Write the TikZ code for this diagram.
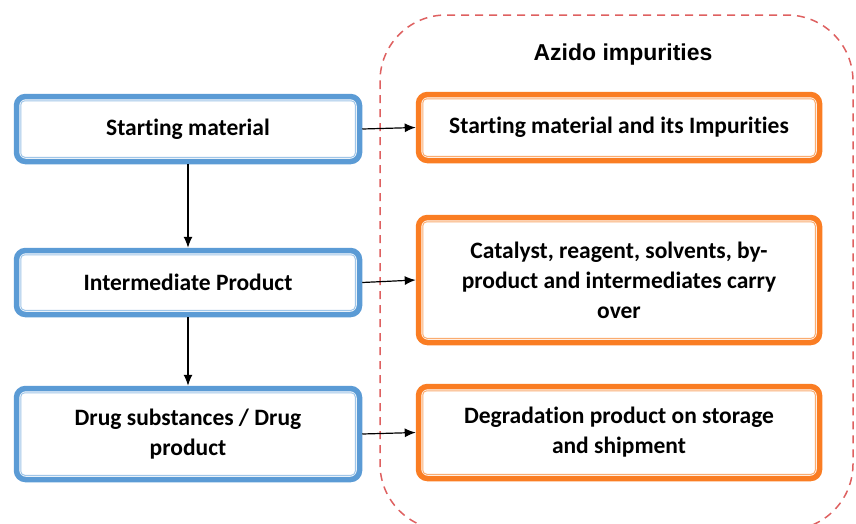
\documentclass[tikz,border=0pt]{standalone}
\usepackage{fontspec}
\setmainfont{Carlito}[Ligatures=NoCommon]
\newfontfamily\titlefont{Liberation Sans}
\usetikzlibrary{arrows.meta}
\definecolor{bluebox}{RGB}{91,155,213}
\definecolor{blueline}{RGB}{160,198,232}
\definecolor{orangebox}{RGB}{250,125,35}
\definecolor{orangeline}{RGB}{250,172,112}
\definecolor{redline}{RGB}{222,96,96}

\begin{document}
\begin{tikzpicture}[x=1pt,y=-1pt,>={Latex[length=11pt,width=9pt]},
    stepbox/.style={line width=5.5pt,rounded corners=9pt,fill=white,align=center,
      inner sep=0pt,font=\fontsize{23.5}{30}\selectfont\bfseries},
    blueframe/.style={stepbox,draw=bluebox},
    orangeframe/.style={stepbox,draw=orangebox}]
  \clip (0,0) rectangle (856,523);

  % impurity region
  \draw [redline,line width=1.5pt,dash pattern=on 8pt off 6pt,rounded corners=66pt]
    (380,15) rectangle (853,530);
  \node (title) at (623,55) {\titlefont\fontsize{23}{27}\selectfont\bfseries Azido impurities};

  \begin{scope}[every node/.style={blueframe,minimum width=343pt}]
    \node (start) [minimum height=65pt] at (188,129) {Starting material};
    \node (inter) [minimum height=64pt] at (188,282.5) {Intermediate Product};
    \node (drug) [minimum height=91pt] at (188,434) {Drug substances / Drug\\product};
  \end{scope}

  \begin{scope}[every node/.style={orangeframe,minimum width=401pt}]
    \node (smimp) [minimum height=66pt] at (619,127.5) {Starting material and its Impurities};
    \node (catal) [minimum height=125pt] at (619,280) {Catalyst, reagent, solvents, by-\\product and intermediates carry\\over};
    \node (degrad) [minimum height=92pt] at (619,432.5) {Degradation product on storage\\and shipment};
  \end{scope}

  % thin inner frames
  \foreach \n/\c in {start/blueline,inter/blueline,drug/blueline,
                     smimp/orangeline,catal/orangeline,degrad/orangeline}
    \draw [\c,line width=1pt,rounded corners=4pt]
      ([shift={(7pt,-7pt)}]\n.north west) rectangle ([shift={(-7pt,7pt)}]\n.south east);

  \path [->,line width=1.2pt] (start) edge (inter);
  \path [->,line width=1.2pt] (inter) edge (drug);
  \path [->,line width=1.2pt] (start.east) edge (smimp.west);
  \path [->,line width=1.2pt] (inter.east) edge (catal.west);
  \path [->,line width=1.2pt] (drug.east) edge (degrad.west);
\end{tikzpicture}
\end{document}
